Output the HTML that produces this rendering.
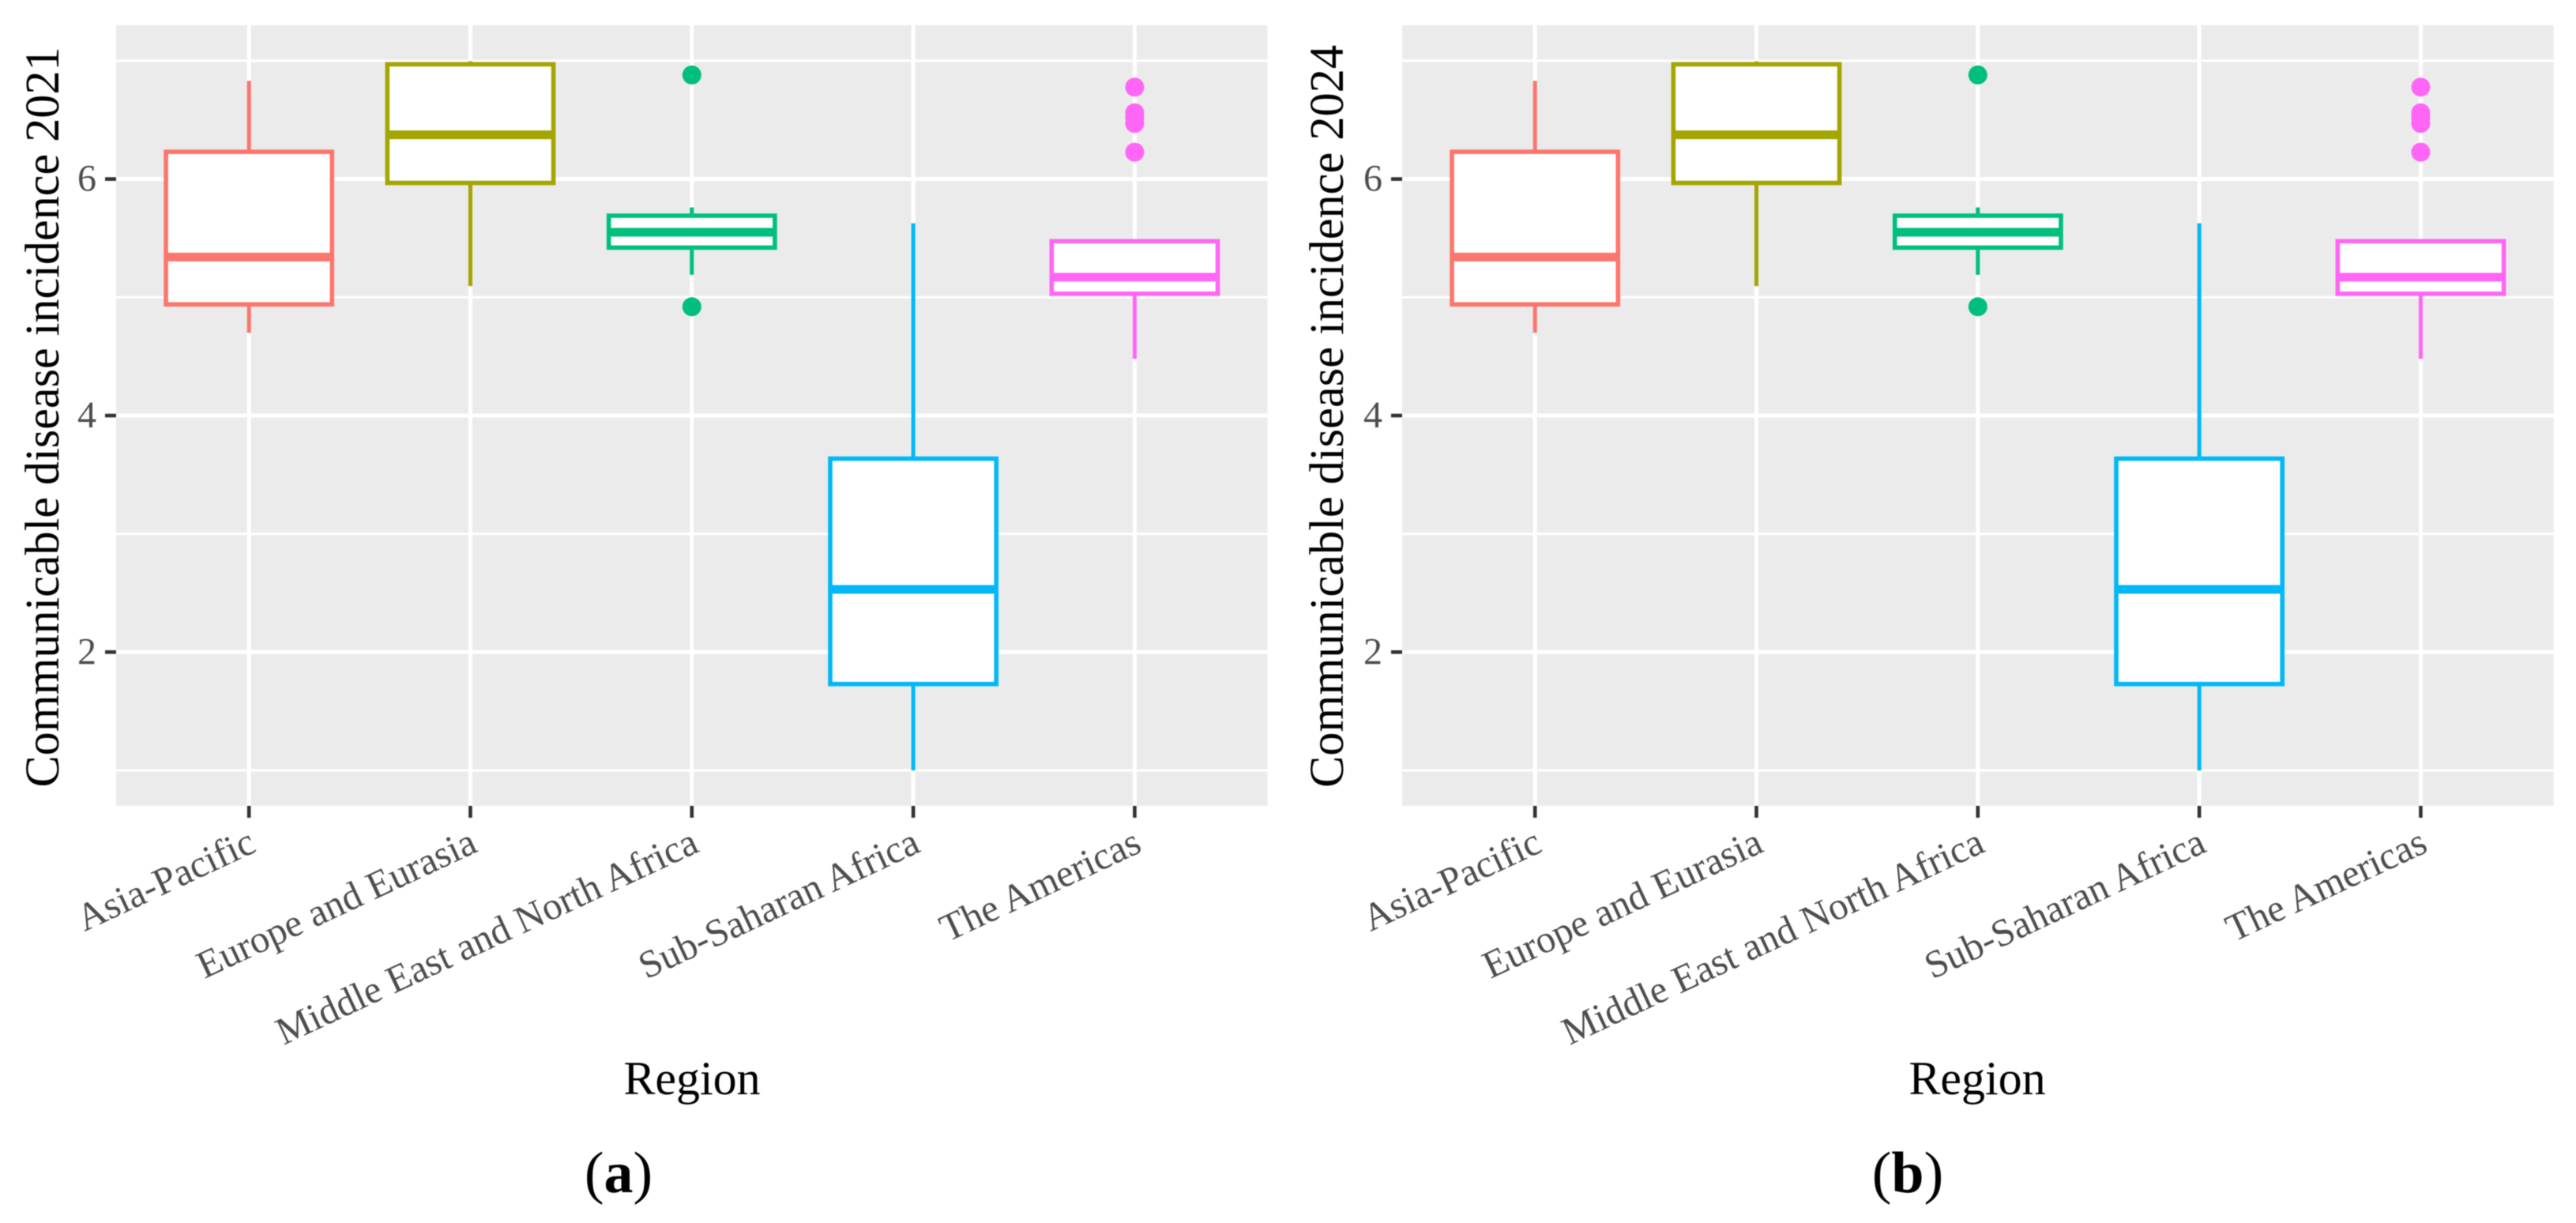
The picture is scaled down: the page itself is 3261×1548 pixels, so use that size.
<!DOCTYPE html>
<html lang="en">
<head>
<meta charset="utf-8">
<title>Communicable disease incidence by region</title>
<style>
  html, body { margin: 0; padding: 0; background: #fff; }
  body { width: 3261px; height: 1548px; overflow: hidden; }
  svg { display: block; font-family: "Liberation Serif", serif; filter: blur(0.6px); }
</style>
</head>
<body>
<svg id="figure" xmlns="http://www.w3.org/2000/svg" width="3261" height="1548" viewBox="0 0 3261 1548">
  <rect x="0" y="0" width="3261" height="1548" fill="#ffffff"/>
  <g id="panel-a"></g>
  <g id="panel-b"></g>
  <text transform="translate(74,528) rotate(-90)" text-anchor="middle" font-size="61" fill="#000" textLength="937" lengthAdjust="spacingAndGlyphs">Communicable disease incidence 2021</text>
  <text transform="translate(1700,527) rotate(-90)" text-anchor="middle" font-size="61" fill="#000" textLength="940" lengthAdjust="spacingAndGlyphs">Communicable disease incidence 2024</text>
  <text x="876" y="1385" text-anchor="middle" font-size="60" fill="#000">Region</text>
  <text x="2503" y="1385" text-anchor="middle" font-size="60" fill="#000">Region</text>
  <text x="783" y="1509" text-anchor="middle" font-size="74" fill="#000">(<tspan font-weight="bold">a</tspan>)</text>
  <text x="2415" y="1509" text-anchor="middle" font-size="74" fill="#000">(<tspan font-weight="bold">b</tspan>)</text>
</svg>
<script>
// ---- Chart data ----
const categories = ["Asia-Pacific", "Europe and Eurasia", "Middle East and North Africa", "Sub-Saharan Africa", "The Americas"];
const yTickLabels = [2, 4, 6];
const yMinorBreaks = [1, 3, 5, 7];

// Panel (a): 2021
const whiskerLow2021  = [4.70, 5.095, 5.19, 1.00, 4.48];
const q1Values2021    = [4.94, 5.967, 5.42, 1.73, 5.03];
const medianValues2021 = [5.34, 6.374, 5.55, 2.53, 5.17];
const q3Values2021    = [6.23, 6.97, 5.69, 3.636, 5.474];
const whiskerHigh2021 = [6.83, 6.995, 5.76, 5.626, 5.474];
const outliers2021    = [[], [], [6.88, 4.92], [], [6.777, 6.56, 6.52, 6.47, 6.227]];

// Panel (b): 2024
const whiskerLow2024  = [4.70, 5.095, 5.19, 1.00, 4.48];
const q1Values2024    = [4.94, 5.967, 5.42, 1.73, 5.03];
const medianValues2024 = [5.34, 6.374, 5.55, 2.53, 5.17];
const q3Values2024    = [6.23, 6.97, 5.69, 3.636, 5.474];
const whiskerHigh2024 = [6.83, 6.995, 5.76, 5.626, 5.474];
const outliers2024    = [[], [], [6.88, 4.92], [], [6.777, 6.56, 6.52, 6.47, 6.227]];

// ---- Styling and layout ----
const seriesColors = ["#FB766D", "#A3A500", "#00BF7D", "#00B8F8", "#FF66F5"];
const SVG_NS = "http://www.w3.org/2000/svg";
const panelTop = 32, panelBottom = 1020;
const yDomainMin = 0.7, yDomainMax = 7.3;
const slugs = ["asia-pacific", "europe-eurasia", "middle-east-north-africa", "sub-saharan-africa", "the-americas"];

function make(parent, tag, attrs, text) {
  const el = document.createElementNS(SVG_NS, tag);
  for (const key in attrs) el.setAttribute(key, attrs[key]);
  if (text !== undefined) el.textContent = text;
  parent.appendChild(el);
  return el;
}

function drawPanel(groupId, tag, left, right, low, q1, median, q3, high, outliers) {
  const group = document.getElementById(groupId);
  const bandCount = categories.length + 0.2;
  const step = (right - left) / bandCount;
  const xScale = (i) => left + step * (i + 0.6);
  const yScale = (v) => panelBottom - (v - yDomainMin) / (yDomainMax - yDomainMin) * (panelBottom - panelTop);
  const boxWidth = step * 0.75;

  const bg = make(group, "rect", { x: left, y: panelTop, width: right - left, height: panelBottom - panelTop, fill: "#EBEBEB" });
  
  

  yMinorBreaks.forEach((v) => {
    const line = make(group, "line", { x1: left, x2: right, y1: yScale(v), y2: yScale(v), stroke: "#fff", "stroke-width": 3 });
    
    
  });
  yTickLabels.forEach((v) => {
    const line = make(group, "line", { x1: left, x2: right, y1: yScale(v), y2: yScale(v), stroke: "#fff", "stroke-width": 5 });
    
    

    const tick = make(group, "line", { x1: left - 14, x2: left, y1: yScale(v), y2: yScale(v), stroke: "#333", "stroke-width": 4.6 });
    
    

    const label = make(group, "text", { x: left - 25, y: yScale(v) + 15, "text-anchor": "end", "font-size": 48, fill: "#4D4D4D" }, String(v));
    
    
  });

  categories.forEach((name, i) => {
    const x = xScale(i);
    const color = seriesColors[i];
    const slug = slugs[i] + '-' + tag;

    const grid = make(group, "line", { x1: x, x2: x, y1: panelTop, y2: panelBottom, stroke: "#fff", "stroke-width": 5 });
    
    

    const tick = make(group, "line", { x1: x, x2: x, y1: panelBottom, y2: panelBottom + 15, stroke: "#333", "stroke-width": 4.6 });
    
    

    const label = make(group, "text", { transform: "translate(" + (x + 11) + "," + (panelBottom + 57) + ") rotate(-25)", "text-anchor": "end", "font-size": 49, fill: "#4D4D4D" }, name);
    
    

    const whiskerUp = make(group, "line", { x1: x, x2: x, y1: yScale(high[i]), y2: yScale(q3[i]), stroke: color, "stroke-width": 5 });
    
    

    const whiskerDown = make(group, "line", { x1: x, x2: x, y1: yScale(q1[i]), y2: yScale(low[i]), stroke: color, "stroke-width": 5 });
    
    

    const box = make(group, "rect", { x: x - boxWidth / 2, y: yScale(q3[i]), width: boxWidth, height: yScale(q1[i]) - yScale(q3[i]), fill: "#fff", stroke: color, "stroke-width": 5.6 });
    
    

    const med = make(group, "line", { x1: x - boxWidth / 2, x2: x + boxWidth / 2, y1: yScale(median[i]), y2: yScale(median[i]), stroke: color, "stroke-width": 11 });
    
    

    outliers[i].forEach((v, j) => {
      const dot = make(group, "circle", { cx: x, cy: yScale(v), r: 12, fill: color });
      
      
    });
  });
}

drawPanel("panel-a", "a", 147, 1604.6, whiskerLow2021, q1Values2021, medianValues2021, q3Values2021, whiskerHigh2021, outliers2021);
drawPanel("panel-b", "b", 1775, 3232.6, whiskerLow2024, q1Values2024, medianValues2024, q3Values2024, whiskerHigh2024, outliers2024);
</script>
</body>
</html>
